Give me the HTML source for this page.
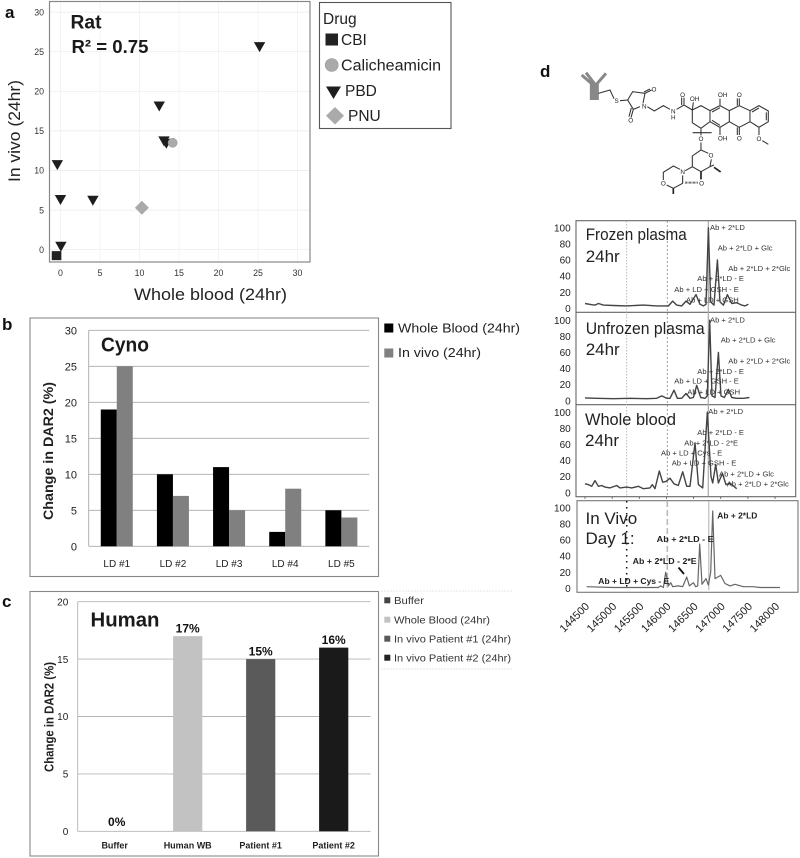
<!DOCTYPE html>
<html>
<head>
<meta charset="utf-8">
<title>DAR2 change figure</title>
<style>
html,body{margin:0;padding:0;background:#fff;width:800px;height:858px;overflow:hidden}
svg{display:block;font-family:"Liberation Sans",sans-serif}
</style>
</head>
<body>
<svg id="fig" width="800" height="858" viewBox="0 0 800 858" xmlns="http://www.w3.org/2000/svg">
<rect width="800" height="858" fill="#fff"/>

<!-- Panel a -->
<g id="panel-a">
  <text x="5" y="18" font-size="17" font-weight="bold" fill="#111">a</text>
  <g id="a-grid"></g>
  <rect x="49.5" y="1.5" width="260.5" height="260.5" fill="none" stroke="#888" stroke-width="1.2"/>
  <g id="a-ticks"></g>
  <text x="70.5" y="28.5" font-size="19" font-weight="bold" fill="#1a1a1a" textLength="31" lengthAdjust="spacingAndGlyphs">Rat</text>
  <text x="71.5" y="53" font-size="18.5" font-weight="bold" fill="#1a1a1a" textLength="77" lengthAdjust="spacingAndGlyphs">R² = 0.75</text>
  <text x="134" y="300" font-size="17" fill="#222" textLength="153" lengthAdjust="spacingAndGlyphs">Whole blood (24hr)</text>
  <text transform="translate(20,131) rotate(-90)" text-anchor="middle" font-size="17" fill="#222" textLength="102" lengthAdjust="spacingAndGlyphs">In vivo (24hr)</text>
  <g id="a-marks"></g>
  <g>
    <rect x="319.5" y="2.5" width="131.5" height="126" fill="#fff" stroke="#555" stroke-width="1.1"/>
    <text x="323" y="24" font-size="15.5" fill="#222">Drug</text>
    <rect x="325.5" y="33.5" width="12.5" height="12" fill="#222"/>
    <text x="341" y="45" font-size="15.5" fill="#222">CBI</text>
    <circle cx="331.7" cy="65" r="6.5" fill="#aaa" stroke="#999" stroke-width=".6"/>
    <text x="341" y="70.5" font-size="15.5" fill="#222" textLength="100" lengthAdjust="spacingAndGlyphs">Calicheamicin</text>
    <path d="M326 86.5H341L333.5 99Z" fill="#1e1e1e"/>
    <text x="345" y="96" font-size="15.5" fill="#222">PBD</text>
    <path d="M335 107L344 115.7L335 124.5L326 115.7Z" fill="#aaa"/>
    <text x="348" y="121" font-size="15.5" fill="#222">PNU</text>
  </g>
</g>

<!-- Panel b -->
<g id="panel-b">
  <text x="2" y="330" font-size="17" font-weight="bold" fill="#111">b</text>
  <rect x="30" y="318" width="348.5" height="258.5" fill="none" stroke="#888" stroke-width="1.1"/>
  <g id="b-grid"></g>
  <g id="b-bars"></g>
  <text x="101" y="351.5" font-size="20" font-weight="bold" fill="#1a1a1a" textLength="48" lengthAdjust="spacingAndGlyphs">Cyno</text>
  <text transform="translate(53,451) rotate(-90)" text-anchor="middle" font-size="13.5" font-weight="bold" fill="#222" textLength="138" lengthAdjust="spacingAndGlyphs">Change in DAR2 (%)</text>
  <rect x="384.3" y="323.5" width="9" height="9" fill="#000"/>
  <text x="398" y="332.5" font-size="13" fill="#222" textLength="122" lengthAdjust="spacingAndGlyphs">Whole Blood (24hr)</text>
  <rect x="384.3" y="348.5" width="9" height="9" fill="#808080"/>
  <text x="398" y="357" font-size="13" fill="#222" textLength="83" lengthAdjust="spacingAndGlyphs">In vivo (24hr)</text>
</g>

<!-- Panel c -->
<g id="panel-c">
  <text x="2" y="607" font-size="17" font-weight="bold" fill="#111">c</text>
  <rect x="30" y="591.5" width="348.5" height="264.5" fill="none" stroke="#888" stroke-width="1.1"/>
  <g id="c-grid"></g>
  <g id="c-bars"></g>
  <text x="90.5" y="626.5" font-size="20" font-weight="bold" fill="#1a1a1a" textLength="69" lengthAdjust="spacingAndGlyphs">Human</text>
  <text transform="translate(53.5,717) rotate(-90)" text-anchor="middle" font-size="12.5" font-weight="bold" fill="#222" textLength="110" lengthAdjust="spacingAndGlyphs">Change in DAR2 (%)</text>
  <line x1="381" y1="591" x2="513" y2="591" stroke="#ddd" stroke-width=".8" stroke-dasharray="2 1"/>
  <line x1="381" y1="669" x2="513" y2="669" stroke="#ddd" stroke-width=".8" stroke-dasharray="2 1"/>
  <rect x="384.3" y="597.3" width="6" height="6" fill="#444"/>
  <text x="394" y="604" font-size="10" fill="#333" textLength="30" lengthAdjust="spacingAndGlyphs">Buffer</text>
  <rect x="384.3" y="616.7" width="6" height="6" fill="#c2c2c2"/>
  <text x="394" y="623.3" font-size="10" fill="#333" textLength="96" lengthAdjust="spacingAndGlyphs">Whole Blood (24hr)</text>
  <rect x="384.3" y="635.7" width="6" height="6" fill="#5a5a5a"/>
  <text x="394" y="642.5" font-size="10" fill="#333" textLength="117" lengthAdjust="spacingAndGlyphs">In vivo Patient #1 (24hr)</text>
  <rect x="384.3" y="654.7" width="6" height="6" fill="#222"/>
  <text x="394" y="661.5" font-size="10" fill="#333" textLength="117" lengthAdjust="spacingAndGlyphs">In vivo Patient #2 (24hr)</text>
</g>

<!-- Panel d -->
<g id="panel-d">
  <text x="540" y="77" font-size="17" font-weight="bold" fill="#111">d</text>

  <g transform="translate(530,50) scale(.3333)" fill="none" stroke="#333" stroke-width="3.2">
    <g stroke="#888" stroke-width="9">
      <path d="M184 150V100L155 75M193 150V100L168 68M202 150V100L228 70"/>
    </g>
    <path d="M205 130L240 120L252 146M270 152L293 150L308 125L345 130L339 160M330 170L310 178L293 150M345 130L365 120M342 126L360 117M310 178L303 203M304 174L297 200M352 170L373 183L400 167L420 178M440 178L462 165L487 180L513 167L540 182L540 215L513 235L487 218L487 180M462 165L462 143M455 165L455 143M487 180L490 157M540 182L570 167L598 182L598 215L570 232L540 215M546 186L570 173M546 211L570 226M570 167L570 146M570 232L570 255M598 182L628 167L660 182L660 215L628 232L598 215M628 167L628 145M622 167L622 145M628 232L628 255M622 232L622 255M660 182L687 167L715 183L715 215L687 232L660 215M666 186L687 174M709 187L709 211M687 232L687 255M697 272L715 283M513 235L513 256M488 248H545M513 277L513 300L487 318L487 350L513 365L540 350L544 328M535 310L513 300M487 350L466 362M450 358L430 348L400 367L400 390M410 405L430 415L458 400L458 376M513 365L513 388M540 350L552 345"/>
    <path d="M552 352L572 366M430 415L430 432M513 365L513 388" stroke-width="5" stroke="#222"/>
    <path d="M465 398H505" stroke-dasharray="2 2" stroke-width="6"/>
    <g stroke="none" fill="#222" font-size="19" text-anchor="middle">
      <text x="260" y="159">S</text><text x="372" y="125">O</text><text x="302" y="217">O</text><text x="343" y="175">N</text>
      <text x="430" y="190">N</text><text x="430" y="209">H</text><text x="458" y="141">O</text><text x="494" y="153">OH</text>
      <text x="578" y="141">OH</text><text x="628" y="141">O</text><text x="578" y="272">OH</text><text x="628" y="272">O</text>
      <text x="687" y="273">O</text><text x="513" y="273">O</text><text x="543" y="323">O</text><text x="458" y="372">N</text>
      <text x="400" y="407">O</text><text x="515" y="407">O</text>
    </g>
  </g>

  <rect x="576" y="220.7" width="219.7" height="276" fill="none" stroke="#666" stroke-width="1.1"/>
  <line x1="576" y1="312.3" x2="795.7" y2="312.3" stroke="#666" stroke-width="1.1"/>
  <line x1="576" y1="404.7" x2="795.7" y2="404.7" stroke="#666" stroke-width="1.1"/>
  <rect x="577" y="500.7" width="221" height="91.6" fill="none" stroke="#777" stroke-width="1.1"/>

  <g stroke="#aaa" stroke-width=".8">
    <line x1="626.7" y1="221" x2="626.7" y2="496" stroke-dasharray="1.5 1.5"/>
    <line x1="667.3" y1="221" x2="667.3" y2="496" stroke-dasharray="2 2" stroke="#888"/>
    <line x1="708.3" y1="221" x2="708.3" y2="496" stroke="#aaa" stroke-width="1.2"/>
    <line x1="626.7" y1="501" x2="626.7" y2="590" stroke="#111" stroke-width="1.5" stroke-dasharray="1.5 4.5"/>
    <line x1="667.3" y1="501" x2="667.3" y2="590" stroke="#bbb" stroke-width="1.6" stroke-dasharray="6 3"/>
    <line x1="708.8" y1="501" x2="708.8" y2="590" stroke="#bbb" stroke-width="1.2"/>
  </g>

  <g id="d-ticks"></g>
  <g id="d-lines"></g>

  <g font-size="17" fill="#222">
    <text x="585.7" y="240" textLength="101" lengthAdjust="spacingAndGlyphs">Frozen plasma</text>
    <text x="585.7" y="262">24hr</text>
    <text x="585.7" y="334" textLength="119" lengthAdjust="spacingAndGlyphs">Unfrozen plasma</text>
    <text x="585.7" y="355">24hr</text>
    <text x="585" y="425" textLength="91" lengthAdjust="spacingAndGlyphs">Whole blood</text>
    <text x="585" y="446">24hr</text>
    <text x="585.5" y="524">In Vivo</text>
    <text x="585.5" y="544">Day 1:</text>
  </g>

  <g font-size="7.6" fill="#333">
    <text x="710" y="230">Ab + 2*LD</text>
    <text x="717.7" y="250.7">Ab + 2*LD + Glc</text>
    <text x="728.3" y="271">Ab + 2*LD + 2*Glc</text>
    <text x="697.3" y="281">Ab + 2*LD - E</text>
    <text x="674.3" y="292">Ab + LD + GSH - E</text>
    <text x="686" y="302.3">Ab + LD + GSH</text>
  </g>
  <g font-size="7.6" fill="#333">
    <text x="710" y="322.3">Ab + 2*LD</text>
    <text x="720.7" y="342.7">Ab + 2*LD + Glc</text>
    <text x="728.3" y="363.7">Ab + 2*LD + 2*Glc</text>
    <text x="697.3" y="374">Ab + 2*LD - E</text>
    <text x="674.3" y="383.7">Ab + LD + GSH - E</text>
    <text x="687.3" y="394.7">Ab + LD + GSH</text>
  </g>
  <g font-size="7.6" fill="#333">
    <text x="708.3" y="414">Ab + 2*LD</text>
    <text x="697.3" y="435">Ab + 2*LD - E</text>
    <text x="684.3" y="445.3">Ab + 2*LD - 2*E</text>
    <text x="661" y="455.7">Ab + LD + Cys - E</text>
    <text x="671.7" y="465.7">Ab + LD + GSH - E</text>
    <text x="719" y="476.3">Ab + 2*LD + Glc</text>
    <text x="726.7" y="486.7">Ab + 2*LD + 2*Glc</text>
  </g>
  <g font-size="8" font-weight="bold" fill="#222">
    <text x="717.3" y="518.3" textLength="40" lengthAdjust="spacingAndGlyphs">Ab + 2*LD</text>
    <text x="656.7" y="542" textLength="57" lengthAdjust="spacingAndGlyphs">Ab + 2*LD -  E</text>
    <text x="632.7" y="564" textLength="64" lengthAdjust="spacingAndGlyphs">Ab + 2*LD  - 2*E</text>
    <text x="598.3" y="584" textLength="71" lengthAdjust="spacingAndGlyphs">Ab + LD + Cys - E</text>
  </g>
  <line x1="678.5" y1="567.5" x2="684" y2="574" stroke="#111" stroke-width="1.8"/>
</g>

<script>
// Panel a: rat scatter values
const ratTicks = [0, 5, 10, 15, 20, 25, 30];
const pbdWhole = [25.2, 12.5, 13.1, 13.4, -0.4, 0, 4.1, 0.05];
const pbdVivo = [25.6, 18.1, 13.7, 13.4, 10.7, 6.3, 6.2, 0.4];
const cbiWhole = [-0.5];
const cbiVivo = [-0.75];
const caliWhole = [14.2];
const caliVivo = [13.5];
const pnuWhole = [10.3];
const pnuVivo = [5.3];

// Panel b: cyno bars
const cynoCategories = ['LD #1', 'LD #2', 'LD #3', 'LD #4', 'LD #5'];
const cynoWholeBlood = [19, 10, 11, 2, 5];
const cynoInVivo = [25, 7, 5, 8, 4];
const cynoTicks = [0, 5, 10, 15, 20, 25, 30];

// Panel c: human bars
const humanCategories = ['Buffer', 'Human WB', 'Patient #1', 'Patient #2'];
const humanValues = [0, 17, 15, 16];
const humanColors = ['#444444', '#c2c2c2', '#5a5a5a', '#1a1a1a'];
const humanTicks = [0, 5, 10, 15, 20];

// Panel d: deconvoluted mass spectra
const massTicks = [144500, 145000, 145500, 146000, 146500, 147000, 147500, 148000];
const intensityTicks = [0, 20, 40, 60, 80, 100];
const frozenMass = [144500,144623,144684,144746,144838,145022,145268,145575,145820,146035,146115,146189,146281,146360,146434,146545,146618,146680,146729,146772,146815,146876,146938,146987,147048,147122,147202,147294,147386,147447,147509];
const frozenIntensity = [6,4.5,4,6,4,3.5,3,4,3,3,9,4,3,9,5,17,5,3,5,100,8,4,60,8,4,17,6,7,4,3,5];
const unfrozenMass = [144500,144715,145022,145329,145636,145820,145912,146004,146066,146139,146201,146281,146360,146434,146496,146557,146631,146710,146753,146796,146839,146895,146956,147005,147067,147140,147202,147294,147417,147527];
const unfrozenIntensity = [3.5,3,2.5,3,2.5,3,6,3,3,13,3,3,9,3,4,19,4,3,6,100,6,4,60,6,4,14,4,3,3,4];
const wholeBloodMass = [144500,144561,144623,144684,144746,144807,144868,144961,145083,145145,145268,145360,145482,145575,145697,145740,145789,145869,145931,145992,146066,146139,146219,146299,146373,146434,146526,146588,146667,146753,146821,146852,146907,146956,147030,147097,147171,147294];
const wholeBloodIntensity = [11,10,8,15,8,9,7,6,9,6,7,6,8,5,6,10,5,27,13,14,18,11,9,26,8,8,62,10,6,100,20,12,35,12,24,10,12,5];
const inVivoMass = [144531,145022,145513,145851,145894,145943,145986,146035,146078,146115,146219,146299,146373,146422,146496,146538,146575,146612,146655,146729,146772,146815,146852,146895,146999,147079,147171,147263,147417,147601,147724,148092];
const inVivoIntensity = [2,1,1,1,3,1,20,3,7,2,3,2,14,3,7,2,3,55,5,12,4,20,96,12,16,6,3,5,2,2,1,1];

const NS = 'http://www.w3.org/2000/svg';
function make(tag, attrs, parent) {
  const el = document.createElementNS(NS, tag);
  Object.keys(attrs).forEach(function (k) { el.setAttribute(k, attrs[k]); });
  document.getElementById(parent).appendChild(el);
  return el;
}

// Axis functions
function xA(v) { return 60.5 + 7.9 * v; }
function yA(v) { return 249.7 - 7.92 * v; }
function yB(v) { return 546.3 - 7.2 * v; }
function catB(i) { return 88.7 + 56.15 * (i + 0.5); }
function yC(v) { return 831.3 - 11.48 * v; }
function catC(i) { return 114.7 + 73 * i; }
function xD(m) { return 585 + (m - 144500) * 0.0543; }
function yD(v, base) { return base - 0.805 * v; }

// Panel a
ratTicks.forEach(function (t) {
  const gh = make('line', { x1: 50, x2: 310, y1: yA(t), y2: yA(t), stroke: '#e9e9e9', 'stroke-width': 0.7 }, 'a-grid');
  
  
  const gv = make('line', { y1: 2, y2: 262, x1: xA(t), x2: xA(t), stroke: '#efefef', 'stroke-width': 0.7 }, 'a-grid');
  
  
  const lx = make('text', { x: xA(t), y: 276, 'font-size': 8.8, fill: '#333', 'text-anchor': 'middle' }, 'a-ticks');
  lx.textContent = t;
  
  
  const ly = make('text', { x: 44, y: yA(t) + 3.2, 'font-size': 8.8, fill: '#333', 'text-anchor': 'end' }, 'a-ticks');
  ly.textContent = t;
  
  
});
pbdWhole.forEach(function (w, i) {
  const x = xA(w), y = yA(pbdVivo[i]);
  const m = make('path', { d: 'M' + (x - 5.7) + ' ' + (y - 4.8) + 'H' + (x + 5.7) + 'L' + x + ' ' + (y + 5.2) + 'Z', fill: '#1e1e1e' }, 'a-marks');
  
  
});
cbiWhole.forEach(function (w, i) {
  const m = make('rect', { x: xA(w) - 4.8, y: yA(cbiVivo[i]) - 4.5, width: 9.6, height: 9, fill: '#222' }, 'a-marks');
  
  
});
caliWhole.forEach(function (w, i) {
  const m = make('circle', { cx: xA(w), cy: yA(caliVivo[i]), r: 4.6, fill: '#aaa', stroke: '#999', 'stroke-width': 0.5 }, 'a-marks');
  
  
});
pnuWhole.forEach(function (w, i) {
  const x = xA(w), y = yA(pnuVivo[i]);
  const m = make('path', { d: 'M' + x + ' ' + (y - 7) + 'L' + (x + 7) + ' ' + y + 'L' + x + ' ' + (y + 7) + 'L' + (x - 7) + ' ' + y + 'Z', fill: '#aaa' }, 'a-marks');
  
  
});

// Panel b
cynoTicks.forEach(function (t) {
  const g = make('line', { x1: 88.7, x2: 369.3, y1: yB(t), y2: yB(t), stroke: '#a8a8a8', 'stroke-width': 0.9 }, 'b-grid');
  
  
  const l = make('text', { x: 77, y: yB(t) + 4, 'font-size': 11, fill: '#222', 'text-anchor': 'end' }, 'b-grid');
  l.textContent = t;
  
  
});
const cynoAxis = make('line', { x1: 88.7, x2: 88.7, y1: yB(30), y2: yB(0), stroke: '#a8a8a8', 'stroke-width': 0.9 }, 'b-grid');


cynoCategories.forEach(function (c, i) {
  const a = make('rect', { x: catB(i) - 16, y: yB(cynoWholeBlood[i]), width: 16, height: yB(0) - yB(cynoWholeBlood[i]), fill: '#000' }, 'b-bars');
  
  
  const b = make('rect', { x: catB(i), y: yB(cynoInVivo[i]), width: 16, height: yB(0) - yB(cynoInVivo[i]), fill: '#808080' }, 'b-bars');
  
  
  const l = make('text', { x: catB(i), y: 567, 'font-size': 10, fill: '#222', 'text-anchor': 'middle' }, 'b-bars');
  l.textContent = c;
  
  
});

// Panel c
humanTicks.forEach(function (t) {
  const g = make('line', { x1: 77.7, x2: 370.5, y1: yC(t), y2: yC(t), stroke: '#b4b4b4', 'stroke-width': 0.9 }, 'c-grid');
  
  
  const l = make('text', { x: 68.3, y: yC(t) + 3.7, 'font-size': 10, fill: '#222', 'text-anchor': 'end' }, 'c-grid');
  l.textContent = t;
  
  
});
const humanAxis = make('line', { x1: 77.7, x2: 77.7, y1: yC(20), y2: yC(0), stroke: '#b4b4b4', 'stroke-width': 0.9 }, 'c-grid');


humanCategories.forEach(function (c, i) {
  const v = humanValues[i];
  const b = make('rect', { x: catC(i) - 14.6, y: yC(v), width: 29.2, height: yC(0) - yC(v), fill: humanColors[i] }, 'c-bars');
  
  
  const vl = make('text', { x: catC(i) + (v === 0 ? 2 : 0), y: yC(v) - (v === 0 ? 5.5 : 3.8), 'font-size': 12, 'font-weight': 'bold', fill: '#111', 'text-anchor': 'middle' }, 'c-bars');
  vl.textContent = v + '%';
  
  
  const l = make('text', { x: catC(i), y: 848.3, 'font-size': 9, fill: '#222', 'text-anchor': 'middle', 'font-weight': 'bold' }, 'c-bars');
  l.textContent = c;
  
  
});

// Panel d
[308.3, 400.7, 492.7, 588.3].forEach(function (base) {
  intensityTicks.forEach(function (t) {
    const l = make('text', { x: 570.7, y: yD(t, base) + 3.6, 'font-size': 10, fill: '#222', 'text-anchor': 'end' }, 'd-ticks');
    l.textContent = t;
    
    
  });
});
massTicks.forEach(function (m) {
  const k = make('line', { x1: xD(m), x2: xD(m), y1: 496.7, y2: 499, stroke: '#555', 'stroke-width': 0.8 }, 'd-ticks');
  
  
  const ax = 590 + (xD(m) - xD(massTicks[0]));
  const l = make('text', { 'text-anchor': 'end', 'font-size': 11, fill: '#222', transform: 'translate(' + ax + ',607) rotate(-45)' }, 'd-ticks');
  l.textContent = m;
  
  
});
function spectrum(mass, intensity, base, color, width) {
  const pts = mass.map(function (m, i) {
    return xD(m).toFixed(1) + ',' + yD(intensity[i], base).toFixed(1);
  }).join(' ');
  return make('polyline', { points: pts, fill: 'none', stroke: color, 'stroke-width': width, 'stroke-linejoin': 'round' }, 'd-lines');
}
const frozenLine = spectrum(frozenMass, frozenIntensity, 308.3, '#444', 1.4);


const unfrozenLine = spectrum(unfrozenMass, unfrozenIntensity, 400.7, '#444', 1.4);


const wholeLine = spectrum(wholeBloodMass, wholeBloodIntensity, 492.7, '#444', 1.4);


const vivoLine = spectrum(inVivoMass, inVivoIntensity, 588.3, '#666', 1.2);


</script>
</svg>
</body>
</html>
